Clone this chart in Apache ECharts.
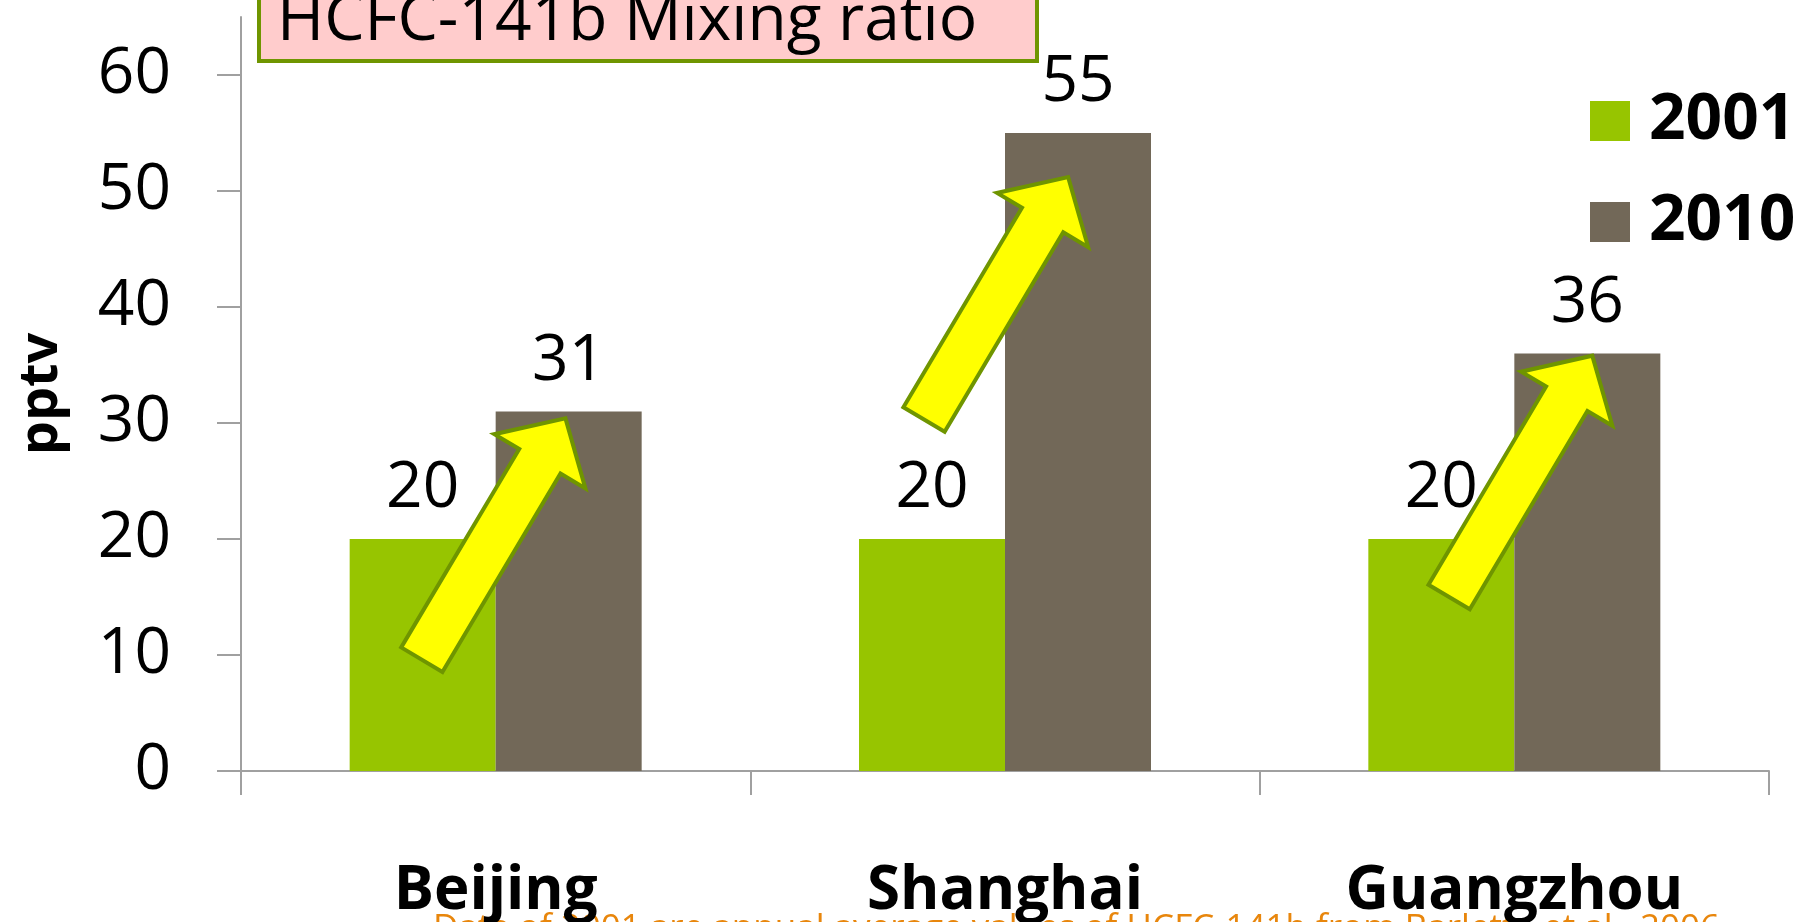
<!DOCTYPE html>
<html>
<head>
<meta charset="utf-8">
<title>HCFC-141b Mixing ratio</title>
<script src="https://cdn.jsdelivr.net/npm/echarts@6/dist/echarts.min.js"></script>
<style>
  html, body { margin: 0; padding: 0; background: #fff; }
  #chart { width: 1812px; height: 922px; }
</style>
</head>
<body>
<div id="chart"></div>
<script>
// 数据
const cities = ["Beijing", "Shanghai", "Guangzhou"];
const years = ["2001", "2010"];
const ratio2001 = [20, 20, 20];
const ratio2010 = [31, 55, 36];
const yTicks = [0, 10, 20, 30, 40, 50, 60];
// arrows: start / end value on the y axis for each city
const arrowFrom = [9.6, 30.3, 15.0];
const arrowTo = [30.4, 51.2, 35.8];

const font = "'Open Sans', 'Noto Sans', sans-serif";
const BAR_W = 146;
// arrow ends, shifted from the category centre (fraction of band width)
const arrowShift = [[-0.145, 0.137], [-0.159, 0.124], [-0.128, 0.153]];

const chart = echarts.init(document.getElementById("chart"));

const option = {
  animation: false,
  textStyle: { fontFamily: font },
  grid: { left: 241, right: 43, top: 17, bottom: 151 },
  legend: {
    data: years,
    orient: "vertical",
    left: 1585,
    top: 84,
    itemWidth: 40,
    itemHeight: 40,
    itemGap: 37,
    icon: "rect",
    textStyle: {
      fontFamily: font,
      fontSize: 64,
      fontWeight: "bold",
      color: "#000",
      lineHeight: 64,
      padding: [0, 0, 0, 14],
    },
  },
  xAxis: {
    type: "category",
    data: cities,
    axisLine: { lineStyle: { color: "#a0a0a0", width: 2 } },
    axisTick: {
      show: true,
      interval: 0,
      alignWithLabel: false,
      length: 24,
      lineStyle: { color: "#a0a0a0", width: 2 },
    },
    axisLabel: {
      margin: 91,
      fontFamily: font,
      fontSize: 60,
      fontWeight: "bold",
      color: "#000",
      lineHeight: 60,
    },
  },
  yAxis: {
    type: "value",
    min: 0,
    max: 65,
    interval: 10,
    name: "pptv",
    nameLocation: "middle",
    nameGap: 172,
    nameTextStyle: { fontFamily: font, fontSize: 54, fontWeight: "bold", color: "#000" },
    splitLine: { show: false },
    axisLine: { show: true, lineStyle: { color: "#a0a0a0", width: 2 } },
    axisTick: {
      show: true,
      length: 24,
      customValues: yTicks,
      lineStyle: { color: "#a0a0a0", width: 2 },
    },
    axisLabel: {
      margin: 70,
      customValues: yTicks,
      fontFamily: font,
      fontSize: 64,
      color: "#000",
    },
  },
  graphic: [
    {
      type: "rect",
      z: 10,
      shape: { x: 259, y: -40, width: 778, height: 101 },
      style: { fill: "#ffcccc", stroke: "#6f9500", lineWidth: 4 },
    },
    {
      type: "text",
      z: 11,
      style: {
        x: 277,
        y: 22,
        text: "HCFC-141b Mixing ratio",
        font: "64px " + font,
        fill: "#000",
        verticalAlign: "middle",
      },
    },
    {
      type: "text",
      z: -1,
      style: {
        x: 433,
        y: 912,
        text: "Data of 2001 are annual average values of HCFC-141b from Barletta et al., 2006",
        font: "35px " + font,
        fill: "#e8860c",
        verticalAlign: "top",
      },
    },
  ],
  series: [
    {
      name: "2001",
      type: "bar",
      data: ratio2001,
      barWidth: BAR_W,
      barGap: "0%",
      itemStyle: { color: "#97c500" },
      label: {
        show: true,
        position: "top",
        distance: 18,
        fontFamily: font,
        fontSize: 64,
        lineHeight: 64,
        color: "#000",
      },
    },
    {
      name: "2010",
      type: "bar",
      data: ratio2010,
      barWidth: BAR_W,
      barGap: "0%",
      itemStyle: { color: "#726858" },
      label: {
        show: true,
        position: "top",
        distance: 18,
        fontFamily: font,
        fontSize: 64,
        lineHeight: 64,
        color: "#000",
      },
    },
    {
      // 黄色箭头
      type: "custom",
      z: 5,
      silent: true,
      data: cities.map((c, i) => [i, arrowFrom[i], arrowTo[i]]),
      encode: { x: 0, y: [1, 2] },
      renderItem: (params, api) => {
        const i = api.value(0);
        const band = api.size([1, 0])[0];
        const t = api.coord([i, api.value(1)]);
        const h = api.coord([i, api.value(2)]);
        t[0] += arrowShift[i][0] * band;
        h[0] += arrowShift[i][1] * band;
        const dx = h[0] - t[0];
        const dy = h[1] - t[1];
        const len = Math.sqrt(dx * dx + dy * dy);
        const ux = dx / len, uy = dy / len;
        const nx = -uy, ny = ux;
        const sw = 24, hw = 53, hl = 50;
        const bx = h[0] - ux * hl, by = h[1] - uy * hl;
        const points = [
          [t[0] + nx * sw, t[1] + ny * sw],
          [bx + nx * sw, by + ny * sw],
          [bx + nx * hw, by + ny * hw],
          [h[0], h[1]],
          [bx - nx * hw, by - ny * hw],
          [bx - nx * sw, by - ny * sw],
          [t[0] - nx * sw, t[1] - ny * sw],
        ];
        return {
          type: "polygon",
          shape: { points: points },
          style: { fill: "#ffff00", stroke: "#6f9500", lineWidth: 4, lineJoin: "miter" },
        };
      },
    },
  ],
};

chart.setOption(option);
</script>
</body>
</html>
